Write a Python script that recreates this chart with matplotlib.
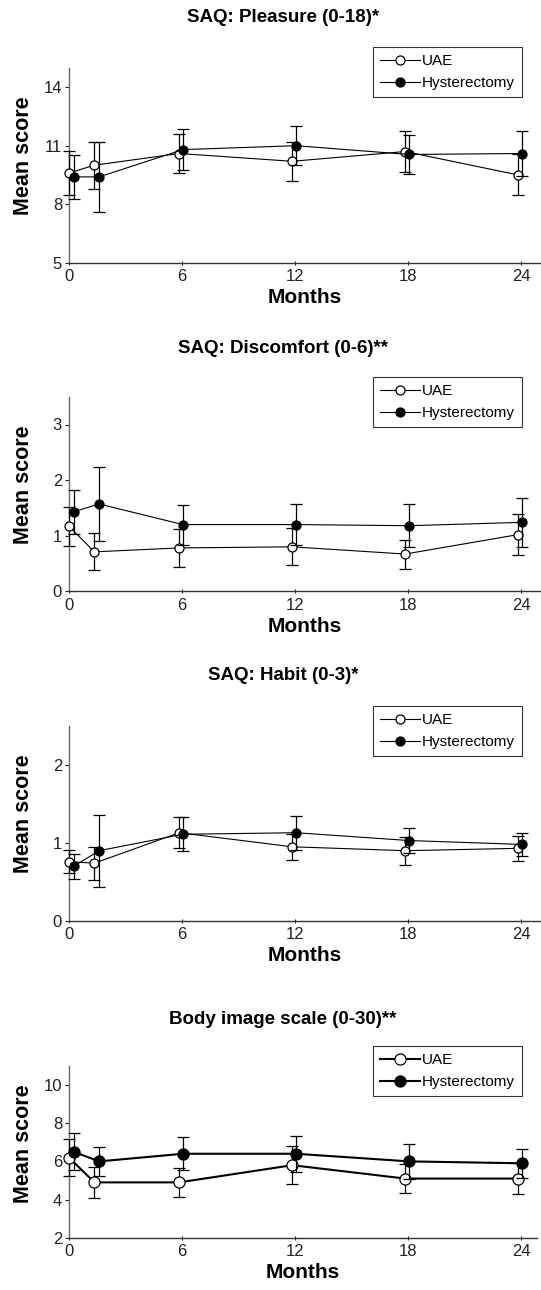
import numpy as np
import matplotlib
matplotlib.use("Agg")
import matplotlib.pyplot as plt
from matplotlib.lines import Line2D

plt.rcParams["font.family"] = ["Liberation Sans", "DejaVu Sans"]

# months of follow-up (UAE points sit slightly left, hysterectomy slightly right)
months_uae = [0.0, 1.35, 5.85, 11.85, 17.85, 23.85]
months_hyst = [0.25, 1.6, 6.05, 12.05, 18.05, 24.05]

titles = ["SAQ: Pleasure (0-18)*", "SAQ: Discomfort (0-6)**",
          "SAQ: Habit (0-3)*", "Body image scale (0-30)**"]

# SAQ pleasure
pleasure_uae = [9.6, 10.0, 10.6, 10.2, 10.7, 9.5]
pleasure_uae_err = [1.15, 1.2, 1.0, 1.0, 1.05, 1.05]
pleasure_hyst = [9.4, 9.4, 10.8, 11.0, 10.55, 10.6]
pleasure_hyst_err = [1.13, 1.8, 1.05, 1.0, 1.0, 1.15]

# SAQ discomfort
discomfort_uae = [1.17, 0.71, 0.78, 0.80, 0.67, 1.02]
discomfort_uae_err = [0.35, 0.33, 0.34, 0.33, 0.26, 0.37]
discomfort_hyst = [1.43, 1.57, 1.20, 1.20, 1.18, 1.24]
discomfort_hyst_err = [0.40, 0.67, 0.36, 0.37, 0.39, 0.44]

# SAQ habit
habit_uae = [0.76, 0.74, 1.13, 0.95, 0.90, 0.93]
habit_uae_err = [0.15, 0.21, 0.20, 0.17, 0.18, 0.16]
habit_hyst = [0.70, 0.90, 1.11, 1.13, 1.03, 0.98]
habit_hyst_err = [0.16, 0.46, 0.22, 0.22, 0.16, 0.15]

# body image scale
body_uae = [6.2, 4.9, 4.9, 5.8, 5.1, 5.1]
body_uae_err = [0.95, 0.8, 0.75, 1.0, 0.75, 0.8]
body_hyst = [6.5, 6.0, 6.4, 6.4, 6.0, 5.9]
body_hyst_err = [0.97, 0.75, 0.87, 0.95, 0.9, 0.75]

panels = [
    (pleasure_uae, pleasure_uae_err, pleasure_hyst, pleasure_hyst_err, (5, 15), [5, 8, 11, 14]),
    (discomfort_uae, discomfort_uae_err, discomfort_hyst, discomfort_hyst_err, (0, 3.5), [0, 1, 2, 3]),
    (habit_uae, habit_uae_err, habit_hyst, habit_hyst_err, (0, 2.5), [0, 1, 2]),
    (body_uae, body_uae_err, body_hyst, body_hyst_err, (2, 11), [2, 4, 6, 8, 10]),
]

W, H = 541, 1290
fig = plt.figure(figsize=(W / 100, H / 100), dpi=100)

# pixel layout: (top, bottom, right end of x axis, legend top, title y)
layout = [
    (67.7, 262.7, 541, 47, 18),
    (396.7, 591.3, 541, 377, 349),
    (725.7, 921.0, 541, 706, 676),
    (1066.0, 1237.7, 537, 1046, 1019),
]
left = 69
px_per_month = (521 - 69) / 24

for i, (uae, uae_err, hyst, hyst_err, ylim, yticks) in enumerate(panels):
    top, bottom, right, leg_top, title_y = layout[i]
    ax = fig.add_axes([left / W, 1 - bottom / H, (right - left) / W, (bottom - top) / H])

    thick = i == 3
    lw = 1.5 if thick else 0.8
    ms = 8 if thick else 6.5

    ax.errorbar(months_uae, uae, yerr=uae_err, color="black", lw=lw,
                marker="o", ms=ms, mfc="white", mec="black", mew=0.9,
                ecolor="black", elinewidth=0.9, capsize=4, capthick=0.9,
                clip_on=False, zorder=3)
    ax.errorbar(months_hyst, hyst, yerr=hyst_err, color="black", lw=lw,
                marker="o", ms=ms, mfc="black", mec="black", mew=0.9,
                ecolor="black", elinewidth=0.9, capsize=4, capthick=0.9,
                clip_on=False, zorder=4)

    ax.set_xlim(0, (right - left) / px_per_month)
    ax.set_ylim(*ylim)
    ax.set_xticks([0, 6, 12, 18, 24])
    ax.set_yticks(yticks)
    ax.tick_params(axis="both", labelsize=12, colors="#222222", width=0.8)
    ax.tick_params(axis="y", direction="out", length=3, pad=2)
    ax.tick_params(axis="x", direction="inout", length=3, pad=3)

    for s in ["top", "right"]:
        ax.spines[s].set_visible(False)
    ax.spines["left"].set_color("#666666")
    ax.spines["bottom"].set_color("#333333")
    ax.spines["left"].set_linewidth(1.0)
    ax.spines["bottom"].set_linewidth(1.0)

    ax.set_xlabel("Months", fontsize=15, fontweight="bold", labelpad=3)
    ax.set_ylabel("Mean score", fontsize=15.5, fontweight="bold")
    ax.yaxis.set_label_coords(-0.075, 0.55)

    fig.text(0.523, 1 - title_y / H, titles[i], ha="center", va="center",
             fontsize=13.5, fontweight="bold")

    handles = [
        Line2D([], [], color="black", lw=lw, marker="o", ms=ms,
               mfc="white", mec="black", mew=0.9),
        Line2D([], [], color="black", lw=lw, marker="o", ms=ms,
               mfc="black", mec="black", mew=0.9),
    ]
    leg = ax.legend(handles, ["UAE", "Hysterectomy"], loc="upper right",
                    bbox_to_anchor=(522 / W, 1 - leg_top / H),
                    bbox_transform=fig.transFigure, fontsize=11, frameon=True,
                    fancybox=False, edgecolor="black", handlelength=2.6,
                    handletextpad=0.15, borderpad=0.45, labelspacing=0.55,
                    borderaxespad=0)
    leg.get_frame().set_linewidth(0.8)

fig.savefig("out.png", dpi=100)
